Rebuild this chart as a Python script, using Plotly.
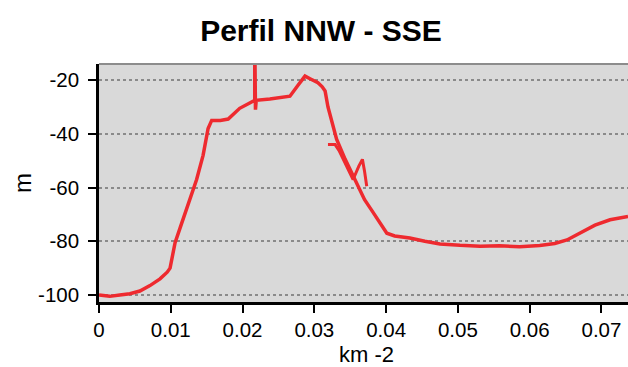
import plotly.graph_objects as go

# Main profile (distance in km, depth in m)
dist_km = [0.0, 0.0015, 0.0029, 0.0043, 0.0057, 0.0071, 0.0085, 0.0095, 0.0099, 0.0102,
           0.0106, 0.0113, 0.0121, 0.0130, 0.0136, 0.0145, 0.0152, 0.0157, 0.0169, 0.0180,
           0.0196, 0.0210, 0.0217, 0.0217, 0.0218, 0.0219, 0.0238, 0.0266, 0.0277, 0.0287,
           0.0294, 0.0305, 0.0311, 0.0315, 0.0319, 0.0326, 0.0331, 0.0343, 0.0352, 0.0361,
           0.0370, 0.0380, 0.0391, 0.0401, 0.0412, 0.0433, 0.0454, 0.0475, 0.0503, 0.0531,
           0.0558, 0.0586, 0.0614, 0.0635, 0.0652, 0.0670, 0.0691, 0.0712, 0.0737]
depth_m = [-100.0, -100.5, -100.0, -99.5, -98.5, -96.5, -94.0, -91.5, -90.0, -86.5,
           -80.5, -75.0, -69.0, -62.0, -57.0, -48.0, -38.0, -35.0, -35.0, -34.5,
           -30.5, -28.5, -27.5, -5.0, -31.0, -27.5, -27.0, -26.0, -22.0, -18.5,
           -19.5, -21.0, -22.5, -24.0, -30.0, -37.0, -42.0, -49.5, -54.5, -60.0,
           -64.5, -68.5, -73.0, -77.0, -78.0, -78.8, -80.0, -81.0, -81.5, -81.8,
           -81.7, -82.0, -81.6, -80.8, -79.5, -77.0, -74.0, -72.0, -70.8]

# Short glitch segment near 0.032-0.037 km
glitch_km = [0.0319, 0.0329, 0.0335, 0.0345, 0.0354, 0.0362, 0.0367, 0.0370, 0.0373]
glitch_m = [-44.0, -44.0, -46.5, -52.0, -57.0, -52.0, -49.5, -54.0, -59.5]

x_ticks = [0, 0.01, 0.02, 0.03, 0.04, 0.05, 0.06, 0.07]
x_tick_labels = ["0", "0.01", "0.02", "0.03", "0.04", "0.05", "0.06", "0.07"]
y_ticks = [-100, -80, -60, -40, -20]
y_tick_labels = ["-100", "-80", "-60", "-40", "-20"]

red = "#ee2a2f"
font_family = "Liberation Sans, Arial, sans-serif"

fig = go.Figure()
fig.add_trace(go.Scatter(x=dist_km, y=depth_m, mode="lines",
                         line=dict(color=red, width=3.5), showlegend=False))
fig.add_trace(go.Scatter(x=glitch_km, y=glitch_m, mode="lines",
                         line=dict(color=red, width=3), showlegend=False))

fig.update_layout(
    width=628, height=367,
    margin=dict(l=99, r=0, t=64, b=65),
    paper_bgcolor="white",
    plot_bgcolor="#d9d9d9",
    font=dict(family=font_family, color="black", size=20),
    title=dict(text="<b>Perfil NNW - SSE</b>", x=321 / 628, xanchor="center",
               y=1 - 30 / 367, yanchor="middle",
               font=dict(size=30, family=font_family, color="black")),
    showlegend=False,
)
fig.update_xaxes(range=[0, 0.0737], tickvals=x_ticks, ticktext=x_tick_labels,
                 showgrid=False, zeroline=False,
                 showline=True, linecolor="black", linewidth=2.5,
                 ticks="outside", ticklen=8, tickwidth=2, tickcolor="black",
                 tickfont=dict(size=20.5))
fig.update_yaxes(range=[-102.6, -14], tickvals=y_ticks, ticktext=y_tick_labels,
                 showgrid=True, gridcolor="#8a8a8a", griddash="dot", gridwidth=2,
                 zeroline=False,
                 showline=True, linecolor="black", linewidth=2.5,
                 ticks="outside", ticklen=8, tickwidth=2, tickcolor="black",
                 ticklabelstandoff=5,
                 tickfont=dict(size=20.5))

# top border of the plot area
fig.add_shape(type="line", xref="paper", yref="paper", x0=0, x1=1, y0=1, y1=1,
              line=dict(color="#8c8c8c", width=2))

# axis titles
fig.add_annotation(text="m", xref="paper", yref="paper", x=-77 / 529, y=0.5,
                   xanchor="center", yanchor="middle", textangle=-90,
                   showarrow=False, font=dict(size=24))
fig.add_annotation(text="km -2", xref="paper", yref="paper", x=(366 - 99) / 529,
                   y=-(354 - 302) / 238, xanchor="center", yanchor="middle",
                   showarrow=False, font=dict(size=22))

fig.write_html("out.html")
